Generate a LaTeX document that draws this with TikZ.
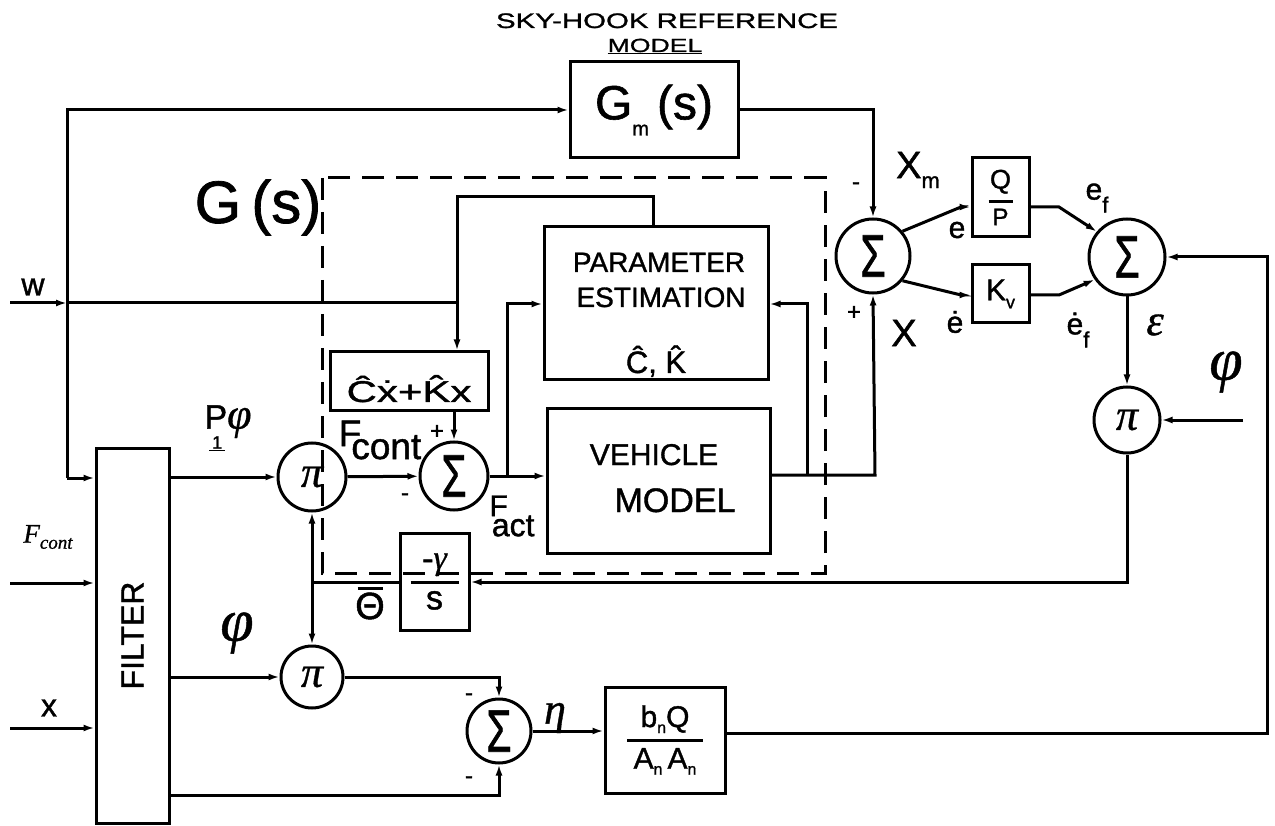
\documentclass[tikz,border=0pt]{standalone}
\usepackage{fontspec}
\setmainfont{Liberation Sans}[FakeBold=1.2]
\newfontfamily\wfont{Liberation Sans}[FakeStretch=1.4,FakeBold=1.2]
\newfontfamily\gk{Liberation Serif}[FakeBold=0.8]
\usepackage{graphicx}
\usetikzlibrary{arrows.meta}
\newcommand\myfs[1]{\fontsize{#1}{#1}\selectfont}
\newcommand\sigm{\scalebox{0.68}[1]{\myfs{60}Σ}}
\newcommand\pim{{\gk\itshape\myfs{44}π}}
\begin{document}
\begin{tikzpicture}[x=1pt,y=-1pt,line width=3pt,
  arr/.style={-{Latex[length=11pt,width=7pt]}},
  blk/.style={draw,rectangle,inner sep=0pt},
  sumc/.style={draw,circle,inner sep=0pt},
  lbl/.style={inner sep=0pt},
  dbox/.style={dash pattern=on 22pt off 12pt}]
\fill[white] (0,0) rectangle (1275,826);
\useasboundingbox (0,0) rectangle (1275,826);

% titles
\node[lbl,anchor=base] (t1) at (667,28) {\wfont\myfs{21}SKY-HOOK REFERENCE};
\node[lbl,anchor=base] (t2) at (655,52) {\wfont\myfs{19}\underline{MODEL}};

% blocks
\node[blk,minimum width=168pt,minimum height=96pt] (Gm) at (654,110) {\myfs{48}G\raisebox{-16pt}{\myfs{20}m}\,(s)};
\node[blk,minimum width=224pt,minimum height=153pt] (PE) at (656,303.5) {};
\node[blk,minimum width=223pt,minimum height=145pt] (VM) at (658.5,480.5) {};
\node[blk,minimum width=158pt,minimum height=58pt] (CK) at (409,381) {};
\node[blk,minimum width=57pt,minimum height=79pt] (QP) at (1000.5,197.5)
  {\shortstack{{\myfs{27}Q}\\[3pt]\rule{24pt}{3pt}\\[3pt]{\myfs{24}P}}};
\node[blk,minimum width=57pt,minimum height=58pt] (Kv) at (1000.5,294)
  {\myfs{30}K\raisebox{-8pt}{\myfs{18}v}};
\node[blk,minimum width=69pt,minimum height=97pt] (gs) at (434.5,581.5)
  {\shortstack{{\gk\itshape\myfs{34}-γ}\\[2pt]\rule{48pt}{3pt}\\[4pt]{\myfs{34}s}}};
\node[blk,minimum width=120pt,minimum height=106pt] (bq) at (665,740)
  {\shortstack{{\myfs{30}b\raisebox{-6pt}{\myfs{16}n}Q}\\[3pt]\rule{76pt}{3pt}\\[3pt]{\myfs{30}A\raisebox{-6pt}{\myfs{16}n}\,A\raisebox{-6pt}{\myfs{16}n}}}};
\node[blk,minimum width=73pt,minimum height=375pt] (filter) at (132.5,635.5)
  {\rotatebox{90}{\myfs{32}FILTER}};

% block texts
\node[lbl,anchor=base] (peT1) at (659,272) {\myfs{28}PARAMETER};
\node[lbl,anchor=base] (peT2) at (661,307) {\myfs{28}ESTIMATION};
\node[lbl,anchor=base] (peT3) at (656,373) {\myfs{31}\^C, \^K};
\node[lbl,anchor=base] (vmT1) at (654,465) {\myfs{30}VEHICLE};
\node[lbl,anchor=base] (vmT2) at (675,512) {\myfs{34}MODEL};
\node[lbl,anchor=base] (ckT) at (409,402) {\wfont\myfs{30}\^C\.x+\^Kx};

% summing / product junctions
\node[sumc,minimum size=74pt] (sig1) at (873,256) {\sigm};
\node[sumc,minimum size=76pt] (sig2) at (1127,257) {\sigm};
\node[sumc,minimum size=66pt] (pi3) at (1127,420) {\pim};
\node[sumc,minimum size=68pt] (pi1) at (312,477) {\pim};
\node[sumc,minimum size=62pt] (pi2) at (312,677) {\pim};
\node[sumc,minimum size=68pt] (sig4) at (454,476) {\sigm};
\node[sumc,minimum size=64pt] (sig3) at (499,731) {\sigm};

% dashed G(s) boundary
\draw[dbox] (322,178) rectangle (825,573);
\node[lbl,anchor=base] (lGs) at (258,223) {\myfs{60}G\,(s)};

% coordinates
\coordinate (wI) at (10,303);
\coordinate (jW) at (67,303);
\coordinate (jTop) at (67,110);
\coordinate (jBot) at (67,478);
\coordinate (jCK) at (457,303);
\coordinate (c1) at (653,197);
\coordinate (c2) at (457,197);
\coordinate (c3) at (507,304);
\coordinate (c4) at (875,475);
\coordinate (c5) at (807,304);
\coordinate (c6) at (873,110);
\coordinate (c7) at (961,207);
\coordinate (c8) at (961,295);
\coordinate (c9) at (1059,207);
\coordinate (c10) at (1059,295);
\coordinate (c11) at (1267,257);
\coordinate (c12) at (1267,733);
\coordinate (c13) at (1243,420);
\coordinate (c14) at (1127,582);
\coordinate (c15) at (312,582);
\coordinate (c16) at (499,677);
\coordinate (c17) at (499,795);
\coordinate (fI) at (10,583);
\coordinate (xI) at (10,728);

% connectors
\draw[arr] (wI) -- (jW);
\draw (jW) -- (jCK);
\draw[arr] (jBot) -- (jTop) -- (Gm.west);
\draw[arr] (jBot) -- (filter.west |- jBot);
\draw[arr] (fI) -- (filter.west |- fI);
\draw[arr] (xI) -- (filter.west |- xI);
\draw[arr] (PE.north -| c1) -- (c1) -- (c2) -- (CK.north -| c2);
\draw[arr] (sig4.north |- CK.south) -- (sig4.north);
\draw[arr] (filter.east |- pi1) -- (pi1);
\draw[arr] (pi1) -- (sig4);
\draw[arr] (sig4) -- (VM.west |- sig4);
\draw[arr] (c3 |- sig4) -- (c3) -- (PE.west |- c3);
\draw[arr] (VM.east |- c4) -- (c4) -- (sig1.south);
\draw[arr] (c5 |- c4) -- (c5) -- (PE.east |- c5);
\draw[arr] (Gm.east) -- (c6) -- (sig1.north);
\draw[arr] (sig1.40) -- (c7) -- (QP.west |- c7);
\draw[arr] (sig1.-40) -- (c8) -- (Kv.west |- c8);
\draw[arr] (QP.east |- c7) -- (c9) -- (sig2.140);
\draw[arr] (Kv.east |- c8) -- (c10) -- (sig2.-145);
\draw[arr] (bq.east |- c12) -- (c12) -- (c11) -- (sig2.east);
\draw[arr] (sig2) -- (pi3);
\draw[arr] (c13) -- (pi3);
\draw[arr] (pi3) -- (c14) -- (gs.east |- c14);
\draw (gs.west |- c15) -- (c15);
\draw[arr] (c15) -- (pi1);
\draw[arr] (c15) -- (pi2);
\draw[arr] (filter.east |- pi2) -- (pi2);
\draw[arr] (pi2) -- (c16) -- (sig3.north);
\draw[arr] (filter.east |- c17) -- (c17) -- (sig3.south);
\draw[arr] (sig3) -- (bq.west |- sig3);

% labels
\node[lbl] (lw) at (33,287) {\myfs{32}w};
\node[lbl] (lFc) at (48,537) {\gk\itshape\myfs{27}F\raisebox{-6pt}{\myfs{19}cont}};
\node[lbl] (lx) at (49,708) {\myfs{32}x};
\node[lbl] (lP) at (228,428) {\myfs{34}P\llap{\raisebox{-20pt}{\myfs{18}\underline{\,1\,}}\hspace{2pt}}{\gk\itshape\myfs{44}φ}};
\node[lbl] (lFcm) at (380,440) {\myfs{37}F\kern-10pt\raisebox{-13pt}{cont}};
\node[lbl] (lFa) at (512,516) {\myfs{30}F\kern-16pt\raisebox{-20pt}{\myfs{32}act}};
\node[lbl] (pl1) at (437,432) {\myfs{24}+};
\node[lbl] (mi1) at (405,497) {\myfs{24}-};
\node[lbl] (mi2) at (856,186) {\myfs{24}-};
\node[lbl] (pl2) at (854,313) {\myfs{24}+};
\node[lbl] (mi3) at (469,697) {\myfs{24}-};
\node[lbl] (mi4) at (469,780) {\myfs{24}-};
\node[lbl] (lXm) at (918,170) {\myfs{38}X\raisebox{-10pt}{\myfs{22}m}};
\node[lbl] (lX) at (904,333) {\myfs{38}X};
\node[lbl] (le) at (957,230) {\myfs{30}e};
\node[lbl] (led) at (955,322) {\myfs{30}\.e};
\node[lbl] (lef) at (1097,198) {\myfs{30}e\raisebox{-13pt}{\myfs{22}f}};
\node[lbl] (ledf) at (1078,330) {\myfs{30}\.e\raisebox{-13pt}{\myfs{22}f}};
\node[lbl] (leps) at (1155,325) {\gk\itshape\myfs{44}ε};
\node[lbl] (lphi3) at (1226,372) {\gk\itshape\myfs{60}φ};
\node[lbl] (lphi2) at (237,633) {\gk\itshape\myfs{60}φ};
\node[lbl] (leta) at (555,718) {\gk\itshape\myfs{44}η};
\node[lbl] (lth) at (370,603) {\shortstack{\rule{25pt}{3pt}\\{\myfs{38}Θ}}};
\end{tikzpicture}
\end{document}
